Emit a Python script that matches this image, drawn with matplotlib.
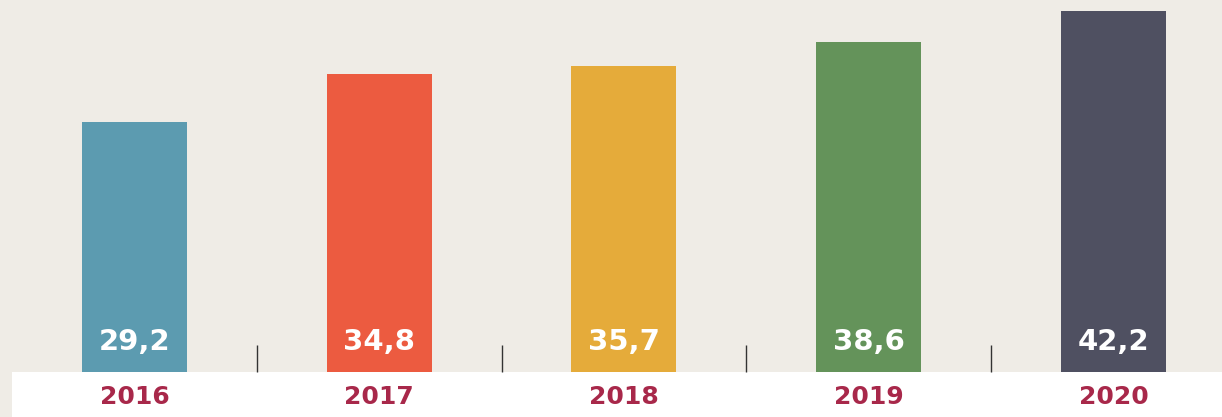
import matplotlib.pyplot as plt
from matplotlib.patches import Rectangle

years = ["2016", "2017", "2018", "2019", "2020"]
values = [29.2, 34.8, 35.7, 38.6, 42.2]
colors = ["#5c9bb0", "#ec5b40", "#e5ab3a", "#64935a", "#4f5061"]

bg = "#efece6"
label_red = "#a8284a"

W, H = 1222, 417
fig = plt.figure(figsize=(W / 100, H / 100), dpi=100, facecolor=bg)

# white strip under the baseline, kept behind the axes
fig.patches.append(Rectangle((12 / W, 0), 1 - 12 / W, 45 / H, transform=fig.transFigure,
                             facecolor="white", edgecolor="none", zorder=-5))

ax = fig.add_axes([0, 45 / H, 1, 1 - 45 / H])
ax.set_facecolor("none")

x = list(range(len(years)))
ax.bar(x, values, width=0.429, color=colors, zorder=2)

for i, v in enumerate(values):
    ax.annotate(f"{v:.1f}".replace(".", ","), xy=(i, 0), xytext=(0, 21.6),
                textcoords="offset points", ha="center", va="center",
                color="white", fontsize=21, fontweight="bold", family="DejaVu Sans", zorder=3)

ax.set_xlim(-0.5495, 4.4433)
ax.set_ylim(0, 43.46)

ax.set_xticks(x)
ax.set_xticklabels(years, color=label_red, fontsize=18, family="DejaVu Sans", fontweight="bold")
ax.tick_params(axis="x", which="major", length=0, pad=9)
ax.set_xticks([i + 0.5 for i in x[:-1]], minor=True)
ax.tick_params(axis="x", which="minor", direction="in", length=19.4, width=1, color="#333333")
ax.set_yticks([])
for s in ax.spines.values():
    s.set_visible(False)

fig.savefig("out.png", dpi=100, facecolor=bg)
